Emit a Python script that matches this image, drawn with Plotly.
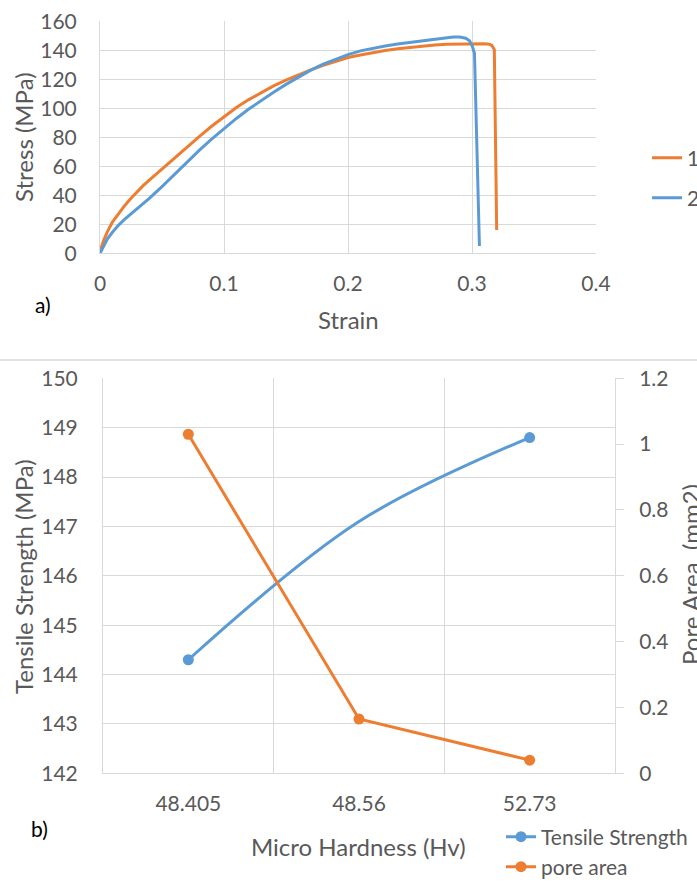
import plotly.graph_objects as go

W, H = 697, 884

# ---------- panel a) stress-strain data ----------
strain_1 = [0, 0.001, 0.003, 0.006, 0.01, 0.015, 0.02, 0.025, 0.03, 0.035, 0.04, 0.05, 0.06,
            0.07, 0.08, 0.09, 0.10, 0.11, 0.12, 0.13, 0.14, 0.15, 0.16, 0.17, 0.18, 0.19, 0.20,
            0.21, 0.22, 0.23, 0.24, 0.25, 0.26, 0.27, 0.28, 0.29, 0.30, 0.31, 0.314, 0.316,
            0.318, 0.3199]
stress_1 = [0, 4, 9, 15, 21.5, 27.5, 33, 38, 42.5, 46.8, 50.7, 58.3, 65.8,
            73.2, 80.5, 87.6, 94.3, 100.5, 106, 111, 115.5, 119.5, 123.2, 126.5, 129.6, 132.4, 135,
            136.8, 138.4, 139.8, 141, 142, 142.9, 143.6, 144.1, 144.4, 144.6, 144.5, 144.2, 143.3,
            140.5, 16]

strain_2 = [0, 0.001, 0.003, 0.006, 0.01, 0.015, 0.02, 0.025, 0.03, 0.035, 0.04, 0.05, 0.06,
            0.07, 0.08, 0.09, 0.10, 0.11, 0.12, 0.13, 0.14, 0.15, 0.16, 0.17, 0.18, 0.19, 0.20,
            0.21, 0.22, 0.23, 0.24, 0.25, 0.26, 0.27, 0.28, 0.285, 0.29, 0.295, 0.298, 0.300,
            0.302, 0.306]
stress_2 = [0, 1.5, 5.5, 10, 14.5, 19.5, 23.5, 27, 30.5, 34, 38, 46, 54.5,
            63, 71, 78.8, 86, 93, 99.5, 105.5, 111, 116.5, 121.6, 126.3, 130.4, 133.9, 137,
            139.6, 141.5, 143, 144.4, 145.6, 146.7, 147.7, 148.7, 149.2, 149.2, 148.3, 146.5,
            143.5, 138, 5]

# ---------- panel b) data ----------
hardness = ["48.405", "48.56", "52.73"]
tensile_strength = [144.3, 147.1, 148.8]
pore_area = [1.03, 0.165, 0.04]

ORANGE = "#ED7D31"
BLUE = "#5B9BD5"
GRID = "#D9D9D9"
TXT = "#595959"
FONT = "Lato"


def px_x(p):
    return p / W


def px_y(p):
    return 1 - p / H


fig = go.Figure()

fig.add_trace(go.Scatter(x=strain_1, y=stress_1, mode="lines", name="1",
                         line=dict(color=ORANGE, width=3), xaxis="x", yaxis="y",
                         legend="legend"))
fig.add_trace(go.Scatter(x=strain_2, y=stress_2, mode="lines", name="2",
                         line=dict(color=BLUE, width=3), xaxis="x", yaxis="y",
                         legend="legend2"))

fig.add_trace(go.Scatter(x=hardness, y=tensile_strength, mode="lines+markers",
                         name="Tensile Strength",
                         line=dict(color=BLUE, width=3, shape="spline"),
                         marker=dict(color=[BLUE, "rgba(0,0,0,0)", BLUE], size=11),
                         xaxis="x2", yaxis="y2", legend="legend3"))
fig.add_trace(go.Scatter(x=hardness, y=pore_area, mode="lines+markers",
                         name="pore area",
                         line=dict(color=ORANGE, width=3),
                         marker=dict(color=ORANGE, size=11),
                         xaxis="x2", yaxis="y3", legend="legend4"))

tickfont = dict(family=FONT, size=21, color=TXT)
common = dict(showgrid=True, gridcolor=GRID, gridwidth=1, zeroline=False,
              showline=True, linecolor=GRID, linewidth=1, tickfont=tickfont,
              automargin=False, ticks="")

leg_font = dict(family=FONT, size=21, color=TXT)
leg_common = dict(font=leg_font, bgcolor="rgba(0,0,0,0)", xanchor="left", yanchor="middle",
                  borderwidth=0)

fig.update_layout(
    width=W, height=H,
    margin=dict(l=0, r=0, t=0, b=0, autoexpand=False),
    paper_bgcolor="white", plot_bgcolor="white",
    font=dict(family=FONT, color=TXT),
    xaxis=dict(domain=[px_x(100), px_x(596)], range=[0, 0.4], dtick=0.1, anchor="y",
               ticklabelstandoff=11, **common),
    yaxis=dict(domain=[px_y(253.3), px_y(21.3)], range=[0, 160], dtick=20, anchor="x",
               ticklabelstandoff=18, **common),
    xaxis2=dict(domain=[px_x(103), px_x(615)], type="category", categoryorder="array",
                categoryarray=hardness, range=[-0.5, 2.5], tickson="boundaries",
                anchor="y2", ticklabelstandoff=11, **common),
    yaxis2=dict(domain=[px_y(773.3), px_y(378.3)], range=[142, 150], dtick=1, anchor="x2",
                ticklabelstandoff=20, **common),
    yaxis3=dict(overlaying="y2", side="right", anchor="x2", range=[0, 1.2], dtick=0.2,
                showgrid=False, zeroline=False, showline=True, linecolor=GRID, linewidth=1,
                ticks="outside", ticklen=8, tickcolor=GRID, tickfont=tickfont,
                ticklabelstandoff=11, automargin=False),
    legend=dict(x=px_x(647), y=px_y(158), **leg_common),
    legend2=dict(x=px_x(647), y=px_y(198), **leg_common),
    legend3=dict(x=px_x(501), y=px_y(837), **leg_common),
    legend4=dict(x=px_x(501), y=px_y(867), **leg_common),
    showlegend=True,
)

title_font = dict(family=FONT, size=24, color=TXT)
label_font = dict(family=FONT, size=21, color="#000000")
annotations = [
    dict(text="Strain", x=px_x(348), y=px_y(319), font=title_font),
    dict(text="Stress (MPa)", x=px_x(23), y=px_y(137), font=title_font, textangle=-90),
    dict(text="a)", x=px_x(43), y=px_y(304), font=label_font),
    dict(text="Micro Hardness (Hv)", x=px_x(359), y=px_y(846), font=title_font),
    dict(text="Tensile Strength (MPa)", x=px_x(23), y=px_y(577), font=title_font,
         textangle=-90),
    dict(text="Pore Area  (mm2)", x=px_x(690), y=px_y(575), font=title_font, textangle=-90),
    dict(text="b)", x=px_x(39), y=px_y(828), font=label_font),
]
for a in annotations:
    fig.add_annotation(xref="paper", yref="paper", showarrow=False,
                       xanchor="center", yanchor="middle", **a)

fig.add_shape(type="line", xref="paper", yref="paper", x0=0, x1=1,
              y0=px_y(360), y1=px_y(360), line=dict(color=GRID, width=1.5))

fig.write_html("out.html")
